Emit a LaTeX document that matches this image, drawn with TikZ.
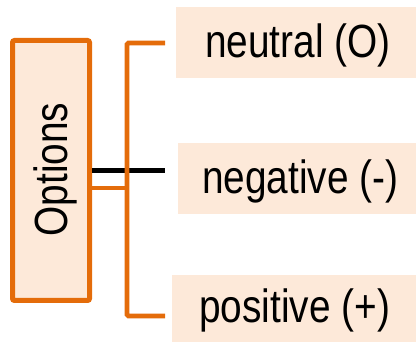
\documentclass[tikz,border=0pt]{standalone}
\usepackage{fontspec}
\setmainfont{Liberation Sans}
\definecolor{accent}{HTML}{E46C0A}
\definecolor{peach}{HTML}{FDE9D9}
\newcommand{\tallt}[1]{\scalebox{1}[1.2]{#1}}
\begin{document}
\begin{tikzpicture}[x=1pt,y=-1pt,
  optbox/.style={draw=accent,fill=peach,line width=5pt,rounded corners=2pt,
    minimum width=77pt,minimum height=260pt,inner sep=0pt},
  itembox/.style={fill=peach,inner sep=0pt},
  itemtext/.style={inner sep=0pt,anchor=base west,font=\fontsize{38.8pt}{40pt}\selectfont},
  orangeline/.style={draw=accent,line width=4.6pt,rounded corners=1.5pt},
  blackline/.style={draw=black,line width=5pt}]
\useasboundingbox (0,0) rectangle (416,342);
% boxes
\node[optbox] (opt) at (51,170.5) {};
\node[inner sep=0pt,rotate=90,anchor=base,font=\fontsize{38.8pt}{40pt}\selectfont] (optlabel) at (67,169.5) {\tallt{Options}};
\node[itembox,minimum width=240pt,minimum height=71pt] (neu) at (296,42.5) {};
\node[itembox,minimum width=238pt,minimum height=71pt] (neg) at (297,178.5) {};
\node[itembox,minimum width=244pt,minimum height=67pt] (pos) at (294,308.5) {};
\node[itemtext] (neutxt) at (205,58) {\tallt{neutral (O)}};
\node[itemtext] (negtxt) at (202,194) {\tallt{negative (-)}};
\node[itemtext] (postxt) at (199,323) {\tallt{positive (+)}};
% connector coordinates
\coordinate (blackstart) at (92,171);
\coordinate (blackend) at (165,171);
\coordinate (orstart) at (92,188);
\coordinate (brtop) at (165,43);
\coordinate (brbot) at (165,316);
\coordinate (brx) at (127,188);
% connectors
\draw[blackline] (blackstart) -- (blackend);
\draw[orangeline] (orstart) -- (brx);
\draw[orangeline] (brtop) -| (brx |- brbot) -- (brbot);
\end{tikzpicture}
\end{document}
